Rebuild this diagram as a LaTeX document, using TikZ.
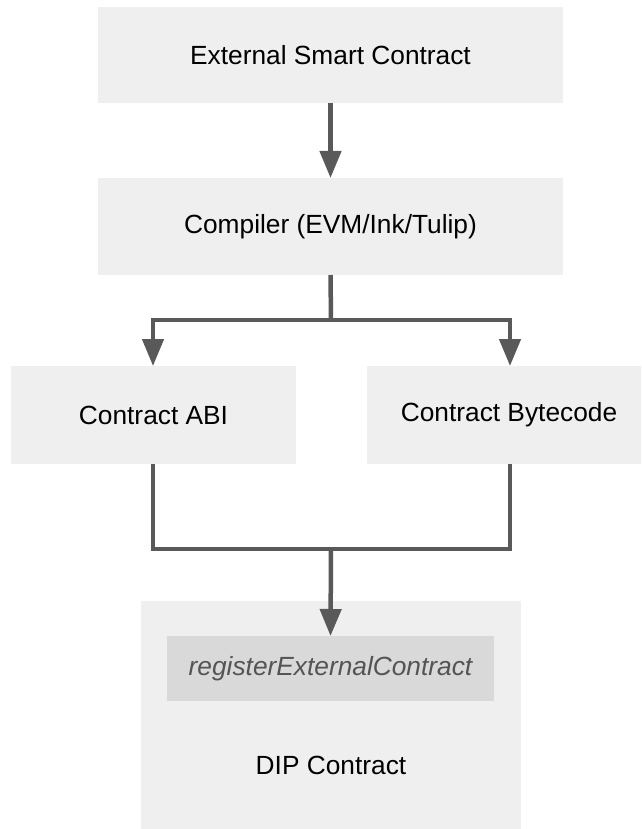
\documentclass[tikz,border=0pt]{standalone}
\usepackage{fontspec}
\setmainfont{Liberation Sans}
\usetikzlibrary{arrows.meta}
\definecolor{boxgray}{HTML}{EFEFEF}
\definecolor{fngray}{HTML}{D9D9D9}
\definecolor{wiregray}{HTML}{595959}
\begin{document}
\begin{tikzpicture}[x=1pt,y=-1pt,
    block/.style={fill=boxgray, draw=none, inner sep=0pt, outer sep=0pt,
      font=\fontsize{26.3}{31}\selectfont},
    wire/.style={draw=wiregray, line width=4.5pt},
    feed/.style={wire, -{Triangle[length=27pt,width=21pt]}}]
        \useasboundingbox (0,0) rectangle (641,829);
        \clip (0,0) rectangle (641,829);
        \node[block, minimum width=465, minimum height=96] (ext) at (330.5,55) {External Smart Contract};
        \node[block, minimum width=465, minimum height=97] (comp) at (330.5,226.5) {Compiler (EVM/Ink/Tulip)};
        \node[block, minimum width=285, minimum height=98] (abi) at (153.5,415) {Contract ABI};
        \node[block, minimum width=285, minimum height=98] (bytecode) at (509,415) {Contract Bytecode};
        % DIP contract with its function
        \node[block, minimum width=380, minimum height=232] (dip) at (331,717) {};
        \node[block, fill=fngray, minimum width=327, minimum height=65, text=black!67,
          font=\fontsize{26.3}{31}\selectfont\itshape] (reg) at (330.5,668.5) {registerExternalContract};
        \node[font=\fontsize{26.3}{31}\selectfont] (diplabel) at (331,765) {DIP Contract};
        \coordinate (split) at (331,320);
        \coordinate (merge) at (331,549);
        \draw[feed] (ext.south) -- (comp.north);
        \draw[wire] (comp.south) -- (split);
        \draw[feed] (split) -| ([xshift=-0.5]abi.north);
        \draw[feed] (split) -| ([xshift=1]bytecode.north);
        \draw[wire] ([xshift=-0.5]abi.south) |- (merge) -| ([xshift=1]bytecode.south);
        \draw[feed] (merge) -- (reg.north);
      \end{tikzpicture}
\end{document}
